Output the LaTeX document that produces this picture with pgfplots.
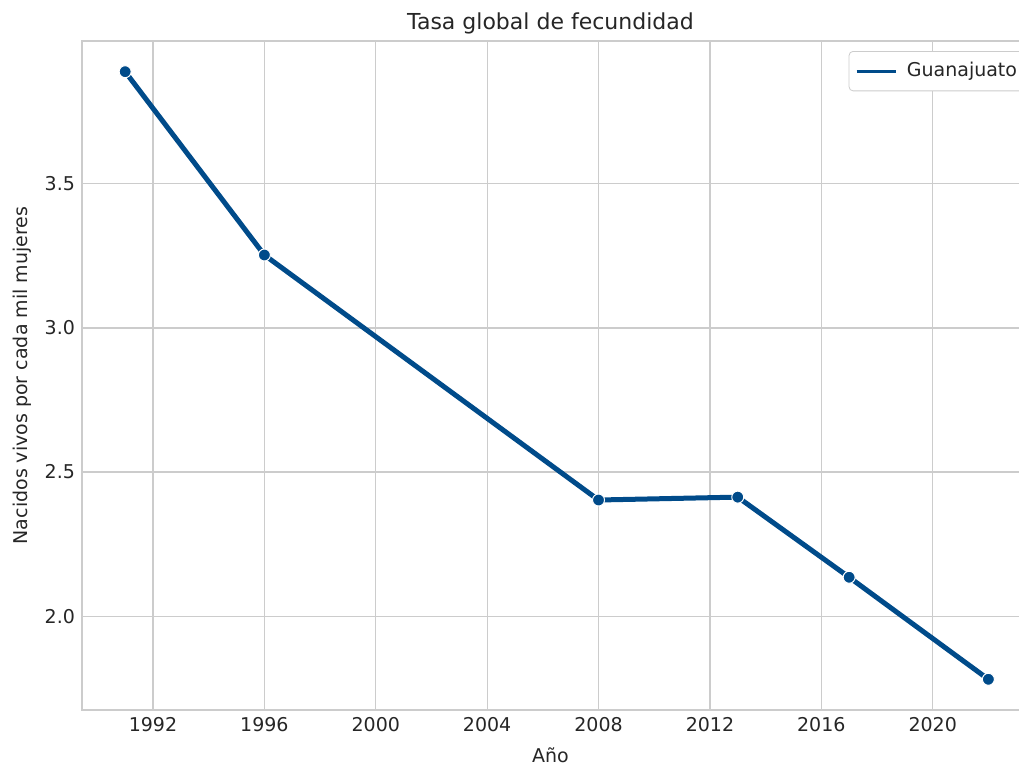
\documentclass[border=0pt]{standalone}
\usepackage{pgfplots}
\pgfplotsset{compat=1.18}
\usepackage{fontspec}
\setmainfont{DejaVu Sans}
\definecolor{lineblue}{RGB}{0,75,138}
\definecolor{gridgray}{RGB}{204,204,204}
\definecolor{txt}{RGB}{38,38,38}
\begin{document}
\begin{tikzpicture}
\begin{axis}[
  scale only axis,
  width=468.5pt, height=334.5pt,
  at={(0,0)}, anchor=south west,
  xmin=1989.45, xmax=2023.1,
  ymin=1.6745, ymax=3.9955,
  xtick={1992,1996,...,2020},
  ytick={2.0,2.5,3.0,3.5},
  xticklabel style={/pgf/number format/1000 sep={}},
  yticklabel style={/pgf/number format/.cd,fixed,fixed zerofill,precision=1},
  /pgf/number format/assume math mode=true,
  tick label style={font=\fontsize{9.5}{11}\selectfont, text=txt},
  major tick length=0pt,
  grid=major,
  grid style={gridgray, line width=0.6pt},
  axis line style={draw=none},
  xlabel={Año}, ylabel={Nacidos vivos por cada mil mujeres},
  xlabel style={yshift=-1.2pt},
  label style={font=\fontsize{9.5}{11}\selectfont, text=txt},
  title={Tasa global de fecundidad},
  title style={font=\fontsize{11}{13}\selectfont, text=txt, yshift=-6pt},
  legend style={at={(1.009,0.985)}, anchor=north east, draw=gridgray, rounded corners=2pt,
    font=\fontsize{9.5}{11}\selectfont, text=txt, inner xsep=3pt, inner ysep=3.5pt,
    /tikz/every even column/.append style={column sep=0pt}},
  legend cell align=left,
  legend image code/.code={\draw[lineblue, line width=1.5pt] (0cm,0cm) -- (0.7cm,0cm);},
  clip=false,
]
\addplot[lineblue, line width=2.5pt, mark=*, mark size=3pt,
  mark options={fill=lineblue, draw=white, line width=0.5pt}]
  coordinates {(1991,3.889) (1996,3.253) (2008,2.403) (2013,2.413) (2017,2.135) (2022,1.781)};
\addlegendentry{\hspace{2.5pt}Guanajuato}
\draw[gridgray, line width=0.8pt] (rel axis cs:1,0) -- (rel axis cs:0,0) -- (rel axis cs:0,1) -- (rel axis cs:1,1);
\end{axis}
\pgfresetboundingbox
\path[use as bounding box] (-41pt,-27.5pt) rectangle (468.5pt,355pt);
\end{tikzpicture}
\end{document}
